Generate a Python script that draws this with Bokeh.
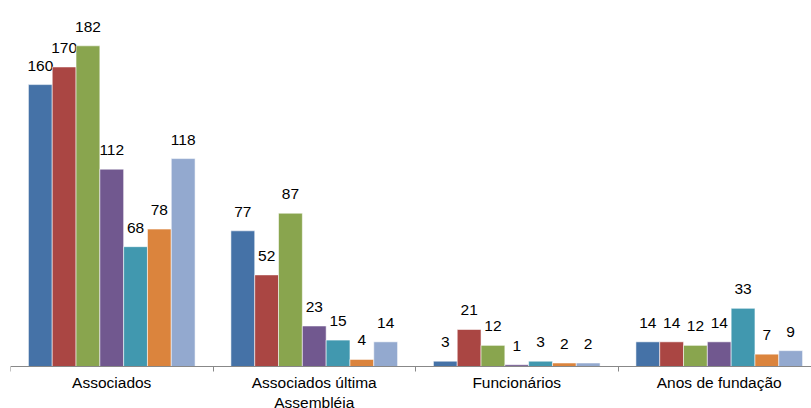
from bokeh.plotting import figure
from bokeh.models import ColumnDataSource, FixedTicker, Range1d
from bokeh.core.properties import value
from bokeh.embed import file_html
from bokeh.resources import INLINE

# Categories and the seven series per category
categories = ["Associados", "Associados última\nAssembléia", "Funcionários", "Anos de fundação"]
series_1 = [160, 77, 3, 14]
series_2 = [170, 52, 21, 14]
series_3 = [182, 87, 12, 12]
series_4 = [112, 23, 1, 14]
series_5 = [68, 15, 3, 33]
series_6 = [78, 4, 2, 7]
series_7 = [118, 14, 2, 9]

series = [series_1, series_2, series_3, series_4, series_5, series_6, series_7]
colors = ["#4572A7", "#AA4643", "#89A54E", "#71588F", "#4198AF", "#DB843D", "#93A9CF"]

FONT = "Liberation Sans"
FS = "15.5px"

group_width = 0.823
bar_w = group_width / len(series)

# The frame fills the canvas; the category axis sits at y = 0 with room below it
px_per_unit = 1.762
p = figure(width=811, height=408, output_backend="svg", toolbar_location=None,
           x_range=Range1d(-0.5, -0.5 + 801 / 202.5),
           y_range=Range1d(-42 / px_per_unit, 366 / px_per_unit),
           min_border_left=10, min_border_right=0, min_border_top=0, min_border_bottom=0)
p.outline_line_color = None
p.grid.visible = False
p.yaxis.visible = False
p.background_fill_color = "white"
p.border_fill_color = "white"

for j, (vals, col) in enumerate(zip(series, colors)):
    xs = [i + (j - 3) * bar_w for i in range(len(categories))]
    src = ColumnDataSource(dict(x=xs, top=vals, label=[str(v) for v in vals]))
    p.vbar(x="x", top="top", bottom=0, width=bar_w, source=src,
           fill_color=col, line_color="white", line_alpha=0.55, line_width=1)
    p.text(x="x", y="top", text="label", source=src, y_offset=-14,
           text_align="center", text_baseline="bottom",
           text_font=value(FONT), text_font_size=FS, text_color="#000000")

# Category axis: names under each group, small ticks on the group boundaries
ax = p.xaxis[0]
ax.fixed_location = 0
ax.ticker = FixedTicker(ticks=list(range(len(categories))),
                        minor_ticks=[i - 0.5 for i in range(len(categories) + 1)])
ax.major_label_overrides = {i: c for i, c in enumerate(categories)}
ax.axis_line_color = "#888888"
ax.axis_line_width = 1
ax.major_tick_line_color = None
ax.major_tick_out = 0
ax.major_tick_in = 0
ax.minor_tick_line_color = "#888888"
ax.minor_tick_out = 5
ax.minor_tick_in = 0
ax.major_label_standoff = 2
ax.major_label_text_font = FONT
ax.major_label_text_font_size = FS
ax.major_label_text_color = "#000000"

open("out.html", "w").write(file_html(p, INLINE))
